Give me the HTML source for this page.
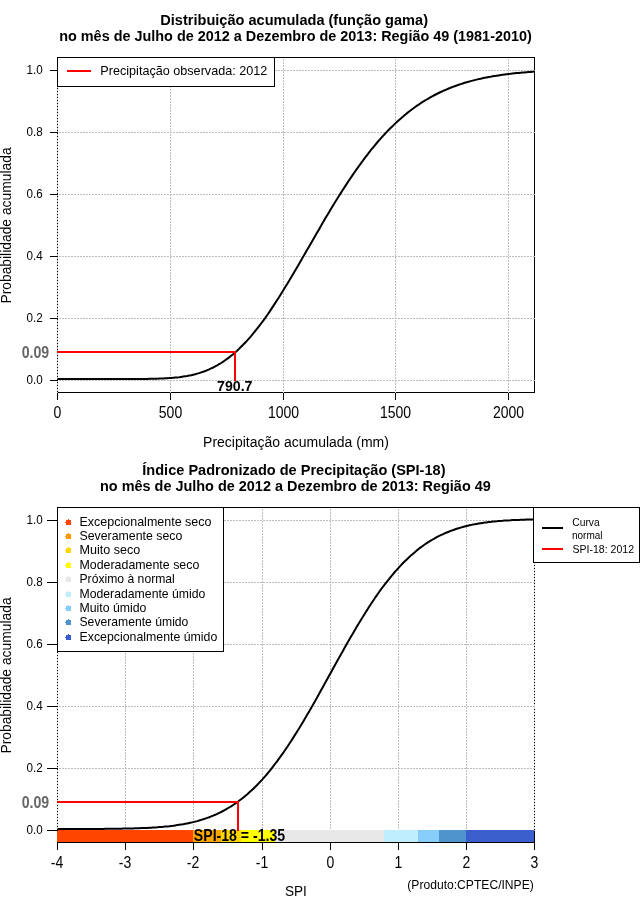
<!DOCTYPE html>
<html><head><meta charset="utf-8"><title>SPI-18</title>
<style>
html,body{margin:0;padding:0;background:#fff;}
body{width:640px;height:900px;overflow:hidden;}
svg{display:block;will-change:transform;font-family:"Liberation Sans",sans-serif;fill:#000;}
.ce{shape-rendering:crispEdges;}
.g{stroke:#bebebe;stroke-width:1;stroke-dasharray:2 1;fill:none;shape-rendering:crispEdges;}
.k{stroke:#000;stroke-width:1;fill:none;shape-rendering:crispEdges;}
.r{stroke:#ff0000;stroke-width:2;fill:none;shape-rendering:crispEdges;}
.c{stroke:#000;stroke-width:2;fill:none;stroke-linejoin:round;}
.b{font-weight:bold;}
</style></head><body>
<svg width="640" height="900" viewBox="0 0 640 900">
<rect x="0" y="0" width="640" height="900" fill="#fff"/>

<g id="p1">
<text transform="translate(160.3,24.6) scale(1,1.1)" font-size="14" class="b" textLength="267.70" lengthAdjust="spacingAndGlyphs">Distribuição acumulada (função gama)</text>
<text transform="translate(59.2,41) scale(1,1.1)" font-size="14" class="b" textLength="472.60" lengthAdjust="spacingAndGlyphs">no mês de Julho de 2012 a Dezembro de 2013: Região 49 (1981-2010)</text>
<path class="k" d="M57.5,57.5 H534.5 V392.5 H57.5 Z"/>
<path class="g" d="M57.5,58.5 V392.5"/>
<path class="g" d="M170.5,58.5 V392.5"/>
<path class="g" d="M283.5,58.5 V392.5"/>
<path class="g" d="M395.5,58.5 V392.5"/>
<path class="g" d="M508.5,58.5 V392.5"/>
<path class="g" d="M58.5,380.5 H534.5"/>
<path class="g" d="M58.5,318.5 H534.5"/>
<path class="g" d="M58.5,256.5 H534.5"/>
<path class="g" d="M58.5,194.5 H534.5"/>
<path class="g" d="M58.5,132.5 H534.5"/>
<path class="g" d="M58.5,70.5 H534.5"/>
<path class="k" d="M50,380.5 H57.5"/>
<text transform="translate(26.5,384.0) scale(1,1.05)" font-size="12" textLength="16.20" lengthAdjust="spacingAndGlyphs">0.0</text>
<path class="k" d="M50,318.5 H57.5"/>
<text transform="translate(26.5,322.0) scale(1,1.05)" font-size="12" textLength="16.20" lengthAdjust="spacingAndGlyphs">0.2</text>
<path class="k" d="M50,256.5 H57.5"/>
<text transform="translate(26.5,260.0) scale(1,1.05)" font-size="12" textLength="16.20" lengthAdjust="spacingAndGlyphs">0.4</text>
<path class="k" d="M50,194.5 H57.5"/>
<text transform="translate(26.5,198.0) scale(1,1.05)" font-size="12" textLength="16.20" lengthAdjust="spacingAndGlyphs">0.6</text>
<path class="k" d="M50,132.5 H57.5"/>
<text transform="translate(26.5,136.0) scale(1,1.05)" font-size="12" textLength="16.20" lengthAdjust="spacingAndGlyphs">0.8</text>
<path class="k" d="M50,70.5 H57.5"/>
<text transform="translate(26.5,74.0) scale(1,1.05)" font-size="12" textLength="16.20" lengthAdjust="spacingAndGlyphs">1.0</text>
<path class="k" d="M57.5,392.5 V400"/>
<text transform="translate(57.5,418) scale(1,1.15)" font-size="14" text-anchor="middle">0</text>
<path class="k" d="M170.5,392.5 V400"/>
<text transform="translate(170.5,418) scale(1,1.15)" font-size="14" text-anchor="middle">500</text>
<path class="k" d="M283.5,392.5 V400"/>
<text transform="translate(283.5,418) scale(1,1.15)" font-size="14" text-anchor="middle">1000</text>
<path class="k" d="M395.5,392.5 V400"/>
<text transform="translate(395.5,418) scale(1,1.15)" font-size="14" text-anchor="middle">1500</text>
<path class="k" d="M508.5,392.5 V400"/>
<text transform="translate(508.5,418) scale(1,1.15)" font-size="14" text-anchor="middle">2000</text>
<path class="c" d="M57.5,379.0 L59.5,379.0 L61.5,379.0 L63.5,379.0 L65.5,379.0 L67.5,379.0 L69.5,379.0 L71.5,379.0 L73.5,379.0 L75.5,379.0 L77.5,379.0 L79.5,379.0 L81.4,379.0 L83.4,379.0 L85.4,379.0 L87.4,379.0 L89.4,379.0 L91.4,379.0 L93.4,379.0 L95.4,379.0 L97.4,379.0 L99.4,379.0 L101.4,379.0 L103.4,379.0 L105.4,379.0 L107.4,379.0 L109.4,379.0 L111.4,379.0 L113.4,379.0 L115.4,379.0 L117.4,379.0 L119.4,379.0 L121.4,379.0 L123.4,379.0 L125.4,379.0 L127.4,379.0 L129.3,379.0 L131.3,379.0 L133.3,379.0 L135.3,379.0 L137.3,379.0 L139.3,379.0 L141.3,378.9 L143.3,378.9 L145.3,378.9 L147.3,378.9 L149.3,378.8 L151.3,378.8 L153.3,378.8 L155.3,378.7 L157.3,378.7 L159.3,378.6 L161.3,378.5 L163.3,378.4 L165.3,378.3 L167.3,378.2 L169.3,378.1 L171.3,378.0 L173.3,377.8 L175.3,377.6 L177.2,377.4 L179.2,377.2 L181.2,376.9 L183.2,376.6 L185.2,376.3 L187.2,376.0 L189.2,375.6 L191.2,375.2 L193.2,374.7 L195.2,374.2 L197.2,373.6 L199.2,373.1 L201.2,372.4 L203.2,371.7 L205.2,371.0 L207.2,370.2 L209.2,369.3 L211.2,368.4 L213.2,367.5 L215.2,366.4 L217.2,365.4 L219.2,364.2 L221.2,363.0 L223.2,361.7 L225.1,360.3 L227.1,358.9 L229.1,357.4 L231.1,355.8 L233.1,354.2 L235.1,352.4 L237.1,350.7 L239.1,348.8 L241.1,346.8 L243.1,344.8 L245.1,342.7 L247.1,340.6 L249.1,338.4 L251.1,336.1 L253.1,333.7 L255.1,331.2 L257.1,328.7 L259.1,326.2 L261.1,323.5 L263.1,320.8 L265.1,318.1 L267.1,315.2 L269.1,312.4 L271.1,309.4 L273.0,306.4 L275.0,303.4 L277.0,300.3 L279.0,297.2 L281.0,294.0 L283.0,290.8 L285.0,287.5 L287.0,284.3 L289.0,280.9 L291.0,277.6 L293.0,274.2 L295.0,270.8 L297.0,267.4 L299.0,264.0 L301.0,260.5 L303.0,257.1 L305.0,253.6 L307.0,250.1 L309.0,246.7 L311.0,243.2 L313.0,239.7 L315.0,236.3 L317.0,232.8 L319.0,229.4 L320.9,225.9 L322.9,222.5 L324.9,219.1 L326.9,215.8 L328.9,212.4 L330.9,209.1 L332.9,205.8 L334.9,202.5 L336.9,199.3 L338.9,196.0 L340.9,192.9 L342.9,189.7 L344.9,186.6 L346.9,183.6 L348.9,180.5 L350.9,177.6 L352.9,174.6 L354.9,171.7 L356.9,168.9 L358.9,166.1 L360.9,163.3 L362.9,160.6 L364.9,157.9 L366.9,155.3 L368.8,152.8 L370.8,150.2 L372.8,147.8 L374.8,145.4 L376.8,143.0 L378.8,140.7 L380.8,138.4 L382.8,136.2 L384.8,134.0 L386.8,131.9 L388.8,129.8 L390.8,127.8 L392.8,125.9 L394.8,123.9 L396.8,122.1 L398.8,120.3 L400.8,118.5 L402.8,116.8 L404.8,115.1 L406.8,113.4 L408.8,111.8 L410.8,110.3 L412.8,108.8 L414.8,107.3 L416.7,105.9 L418.7,104.6 L420.7,103.2 L422.7,101.9 L424.7,100.7 L426.7,99.5 L428.7,98.3 L430.7,97.2 L432.7,96.1 L434.7,95.0 L436.7,94.0 L438.7,93.0 L440.7,92.0 L442.7,91.1 L444.7,90.2 L446.7,89.4 L448.7,88.5 L450.7,87.7 L452.7,86.9 L454.7,86.2 L456.7,85.5 L458.7,84.8 L460.7,84.1 L462.7,83.5 L464.6,82.8 L466.6,82.3 L468.6,81.7 L470.6,81.1 L472.6,80.6 L474.6,80.1 L476.6,79.6 L478.6,79.1 L480.6,78.7 L482.6,78.2 L484.6,77.8 L486.6,77.4 L488.6,77.0 L490.6,76.7 L492.6,76.3 L494.6,76.0 L496.6,75.7 L498.6,75.4 L500.6,75.1 L502.6,74.8 L504.6,74.5 L506.6,74.2 L508.6,74.0 L510.6,73.8 L512.5,73.5 L514.5,73.3 L516.5,73.1 L518.5,72.9 L520.5,72.7 L522.5,72.5 L524.5,72.4 L526.5,72.2 L528.5,72.0 L530.5,71.9 L532.5,71.7 L534.5,71.6"/>
<path class="r" d="M57.0,352 H236 M235,351 V381"/>
<text transform="translate(21.7,358) scale(1,1.2)" font-size="14" class="b" fill="#666" textLength="27.50" lengthAdjust="spacingAndGlyphs">0.09</text>
<text transform="translate(217,391) scale(1,1.1)" font-size="14" class="b" textLength="35.50" lengthAdjust="spacingAndGlyphs">790.7</text>
<rect class="k" x="57.5" y="57.5" width="217" height="29" fill="#fff" style="fill:#fff"/>
<path class="r" d="M67,71 H91"/>
<text transform="translate(100.3,75.4) scale(1,1.05)" font-size="12" textLength="167.00" lengthAdjust="spacingAndGlyphs">Precipitação observada: 2012</text>
<text transform="translate(203.1,446.5) scale(1,1.1)" font-size="14" textLength="185.80" lengthAdjust="spacingAndGlyphs">Precipitação acumulada (mm)</text>
<g transform="translate(10.6,303.6) rotate(-90)">
<text transform="translate(0,0) scale(1,1.1)" font-size="14" textLength="156.20" lengthAdjust="spacingAndGlyphs">Probabilidade acumulada</text>
</g>
</g>
<g id="p2">
<text transform="translate(142.3,474.6) scale(1,1.1)" font-size="14" class="b" textLength="303.20" lengthAdjust="spacingAndGlyphs">Índice Padronizado de Precipitação (SPI-18)</text>
<text transform="translate(100.0,491) scale(1,1.1)" font-size="14" class="b" textLength="390.80" lengthAdjust="spacingAndGlyphs">no mês de Julho de 2012 a Dezembro de 2013: Região 49</text>
<path class="k" d="M57.5,842.5 V507.5 H534.5 V842.5"/>
<path class="g" d="M57.5,508.5 V830.5" style="stroke:#d4d4d4"/>
<path class="g" d="M125.5,508.5 V830.5" style="stroke:#bebebe"/>
<path class="g" d="M193.5,508.5 V830.5" style="stroke:#bebebe"/>
<path class="g" d="M262.5,508.5 V830.5" style="stroke:#bebebe"/>
<path class="g" d="M330.5,508.5 V830.5" style="stroke:#bebebe"/>
<path class="g" d="M398.5,508.5 V830.5" style="stroke:#bebebe"/>
<path class="g" d="M466.5,508.5 V830.5" style="stroke:#bebebe"/>
<path class="g" d="M534.5,508.5 V830.5" style="stroke:#d4d4d4"/>
<path class="g" d="M58.5,830.5 H534.5"/>
<path class="g" d="M58.5,768.5 H534.5"/>
<path class="g" d="M58.5,706.5 H534.5"/>
<path class="g" d="M58.5,644.5 H534.5"/>
<path class="g" d="M58.5,582.5 H534.5"/>
<path class="g" d="M58.5,520.5 H534.5"/>
<rect class="ce" x="57" y="830" width="136" height="12" fill="#ff4500"/>
<rect class="ce" x="193" y="830" width="28" height="12" fill="#ffa500"/>
<rect class="ce" x="221" y="830" width="20" height="12" fill="#ffd700"/>
<rect class="ce" x="241" y="830" width="34" height="12" fill="#ffff00"/>
<rect class="ce" x="275" y="830" width="109" height="12" fill="#e8e8e8"/>
<rect class="ce" x="384" y="830" width="34" height="12" fill="#bfefff"/>
<rect class="ce" x="418" y="830" width="21" height="12" fill="#87cefa"/>
<rect class="ce" x="439" y="830" width="27" height="12" fill="#4f94cd"/>
<rect class="ce" x="466" y="830" width="68" height="12" fill="#3a5fcd"/>
<path class="k" d="M57.0,842.5 H535.0"/>
<path class="k" d="M47,830.5 H57.5"/>
<text transform="translate(26.5,834.0) scale(1,1.05)" font-size="12" textLength="16.20" lengthAdjust="spacingAndGlyphs">0.0</text>
<path class="k" d="M47,768.5 H57.5"/>
<text transform="translate(26.5,772.0) scale(1,1.05)" font-size="12" textLength="16.20" lengthAdjust="spacingAndGlyphs">0.2</text>
<path class="k" d="M47,706.5 H57.5"/>
<text transform="translate(26.5,710.0) scale(1,1.05)" font-size="12" textLength="16.20" lengthAdjust="spacingAndGlyphs">0.4</text>
<path class="k" d="M47,644.5 H57.5"/>
<text transform="translate(26.5,648.0) scale(1,1.05)" font-size="12" textLength="16.20" lengthAdjust="spacingAndGlyphs">0.6</text>
<path class="k" d="M47,582.5 H57.5"/>
<text transform="translate(26.5,586.0) scale(1,1.05)" font-size="12" textLength="16.20" lengthAdjust="spacingAndGlyphs">0.8</text>
<path class="k" d="M47,520.5 H57.5"/>
<text transform="translate(26.5,524.0) scale(1,1.05)" font-size="12" textLength="16.20" lengthAdjust="spacingAndGlyphs">1.0</text>
<path class="k" d="M57.5,842.5 V850"/>
<text transform="translate(57.0,868) scale(1,1.15)" font-size="14" text-anchor="middle">-4</text>
<path class="k" d="M125.5,842.5 V850"/>
<text transform="translate(125.0,868) scale(1,1.15)" font-size="14" text-anchor="middle">-3</text>
<path class="k" d="M193.5,842.5 V850"/>
<text transform="translate(193.0,868) scale(1,1.15)" font-size="14" text-anchor="middle">-2</text>
<path class="k" d="M262.5,842.5 V850"/>
<text transform="translate(262.0,868) scale(1,1.15)" font-size="14" text-anchor="middle">-1</text>
<path class="k" d="M330.5,842.5 V850"/>
<text transform="translate(330.5,868) scale(1,1.15)" font-size="14" text-anchor="middle">0</text>
<path class="k" d="M398.5,842.5 V850"/>
<text transform="translate(398.5,868) scale(1,1.15)" font-size="14" text-anchor="middle">1</text>
<path class="k" d="M466.5,842.5 V850"/>
<text transform="translate(466.5,868) scale(1,1.15)" font-size="14" text-anchor="middle">2</text>
<path class="k" d="M534.5,842.5 V850"/>
<text transform="translate(534.5,868) scale(1,1.15)" font-size="14" text-anchor="middle">3</text>
<path class="c" d="M57.5,829.0 L59.5,829.0 L61.5,829.0 L63.5,829.0 L65.5,829.0 L67.5,829.0 L69.5,829.0 L71.5,829.0 L73.5,829.0 L75.5,829.0 L77.5,829.0 L79.5,829.0 L81.4,829.0 L83.4,829.0 L85.4,828.9 L87.4,828.9 L89.4,828.9 L91.4,828.9 L93.4,828.9 L95.4,828.9 L97.4,828.9 L99.4,828.9 L101.4,828.9 L103.4,828.9 L105.4,828.8 L107.4,828.8 L109.4,828.8 L111.4,828.8 L113.4,828.8 L115.4,828.7 L117.4,828.7 L119.4,828.7 L121.4,828.7 L123.4,828.6 L125.4,828.6 L127.4,828.5 L129.3,828.5 L131.3,828.5 L133.3,828.4 L135.3,828.3 L137.3,828.3 L139.3,828.2 L141.3,828.1 L143.3,828.0 L145.3,828.0 L147.3,827.9 L149.3,827.8 L151.3,827.7 L153.3,827.5 L155.3,827.4 L157.3,827.3 L159.3,827.1 L161.3,826.9 L163.3,826.8 L165.3,826.6 L167.3,826.4 L169.3,826.2 L171.3,825.9 L173.3,825.7 L175.3,825.4 L177.2,825.1 L179.2,824.8 L181.2,824.5 L183.2,824.2 L185.2,823.8 L187.2,823.4 L189.2,823.0 L191.2,822.6 L193.2,822.1 L195.2,821.6 L197.2,821.1 L199.2,820.5 L201.2,819.9 L203.2,819.3 L205.2,818.6 L207.2,817.9 L209.2,817.2 L211.2,816.4 L213.2,815.6 L215.2,814.8 L217.2,813.9 L219.2,812.9 L221.2,812.0 L223.2,810.9 L225.1,809.8 L227.1,808.7 L229.1,807.5 L231.1,806.3 L233.1,805.0 L235.1,803.7 L237.1,802.3 L239.1,800.8 L241.1,799.3 L243.1,797.7 L245.1,796.1 L247.1,794.4 L249.1,792.6 L251.1,790.8 L253.1,788.9 L255.1,787.0 L257.1,785.0 L259.1,782.9 L261.1,780.8 L263.1,778.6 L265.1,776.3 L267.1,774.0 L269.1,771.6 L271.1,769.1 L273.0,766.6 L275.0,764.0 L277.0,761.4 L279.0,758.6 L281.0,755.9 L283.0,753.1 L285.0,750.2 L287.0,747.2 L289.0,744.2 L291.0,741.2 L293.0,738.1 L295.0,734.9 L297.0,731.7 L299.0,728.5 L301.0,725.2 L303.0,721.9 L305.0,718.5 L307.0,715.1 L309.0,711.7 L311.0,708.2 L313.0,704.7 L315.0,701.2 L317.0,697.7 L319.0,694.1 L320.9,690.5 L322.9,686.9 L324.9,683.3 L326.9,679.7 L328.9,676.1 L330.9,672.4 L332.9,668.8 L334.9,665.2 L336.9,661.6 L338.9,658.0 L340.9,654.4 L342.9,650.9 L344.9,647.3 L346.9,643.8 L348.9,640.3 L350.9,636.8 L352.9,633.4 L354.9,630.0 L356.9,626.6 L358.9,623.3 L360.9,620.0 L362.9,616.7 L364.9,613.5 L366.9,610.4 L368.8,607.2 L370.8,604.2 L372.8,601.2 L374.8,598.2 L376.8,595.4 L378.8,592.5 L380.8,589.7 L382.8,587.0 L384.8,584.4 L386.8,581.8 L388.8,579.3 L390.8,576.8 L392.8,574.4 L394.8,572.0 L396.8,569.8 L398.8,567.6 L400.8,565.4 L402.8,563.3 L404.8,561.3 L406.8,559.4 L408.8,557.5 L410.8,555.6 L412.8,553.9 L414.8,552.2 L416.7,550.5 L418.7,548.9 L420.7,547.4 L422.7,546.0 L424.7,544.5 L426.7,543.2 L428.7,541.9 L430.7,540.7 L432.7,539.5 L434.7,538.3 L436.7,537.2 L438.7,536.2 L440.7,535.2 L442.7,534.3 L444.7,533.3 L446.7,532.5 L448.7,531.7 L450.7,530.9 L452.7,530.2 L454.7,529.5 L456.7,528.8 L458.7,528.2 L460.7,527.6 L462.7,527.0 L464.6,526.5 L466.6,526.0 L468.6,525.5 L470.6,525.1 L472.6,524.6 L474.6,524.3 L476.6,523.9 L478.6,523.5 L480.6,523.2 L482.6,522.9 L484.6,522.6 L486.6,522.4 L488.6,522.1 L490.6,521.9 L492.6,521.6 L494.6,521.4 L496.6,521.3 L498.6,521.1 L500.6,520.9 L502.6,520.8 L504.6,520.6 L506.6,520.5 L508.6,520.4 L510.6,520.3 L512.5,520.1 L514.5,520.1 L516.5,520.0 L518.5,519.9 L520.5,519.8 L522.5,519.7 L524.5,519.7 L526.5,519.6 L528.5,519.6 L530.5,519.5 L532.5,519.5 L534.5,519.4"/>
<path class="r" d="M57.0,802 H239 M238,801 V831"/>
<text transform="translate(21.7,808) scale(1,1.2)" font-size="14" class="b" fill="#666" textLength="27.50" lengthAdjust="spacingAndGlyphs">0.09</text>
<text transform="translate(193.8,841) scale(1,1.15)" font-size="14" class="b" textLength="91.40" lengthAdjust="spacingAndGlyphs">SPI-18 = -1.35</text>
<rect class="k" x="57.5" y="507.5" width="166" height="144" style="fill:#fff"/>
<path class="ce" fill="#ff4500" d="M66,520h2v-1h1v1h2v5h-5v-2h-1v-1h1z"/>
<text transform="translate(79.5,526) scale(1,1.05)" font-size="12" textLength="132.00" lengthAdjust="spacingAndGlyphs">Excepcionalmente seco</text>
<path class="ce" fill="#ff9900" d="M66,534h2v-1h1v1h2v5h-5v-2h-1v-1h1z"/>
<text transform="translate(79.5,540) scale(1,1.05)" font-size="12" textLength="102.80" lengthAdjust="spacingAndGlyphs">Severamente seco</text>
<path class="ce" fill="#ffd700" d="M66,548h2v-1h1v1h2v5h-5v-2h-1v-1h1z"/>
<text transform="translate(79.5,554) scale(1,1.05)" font-size="12" textLength="60.80" lengthAdjust="spacingAndGlyphs">Muito seco</text>
<path class="ce" fill="#ffff00" d="M66,563h2v-1h1v1h2v5h-5v-2h-1v-1h1z"/>
<text transform="translate(79.5,569) scale(1,1.05)" font-size="12" textLength="119.80" lengthAdjust="spacingAndGlyphs">Moderadamente seco</text>
<path class="ce" fill="#e8e8e8" d="M66,577h2v-1h1v1h2v5h-5v-2h-1v-1h1z"/>
<text transform="translate(79.5,583) scale(1,1.05)" font-size="12" textLength="95.30" lengthAdjust="spacingAndGlyphs">Próximo à normal</text>
<path class="ce" fill="#bfefff" d="M66,592h2v-1h1v1h2v5h-5v-2h-1v-1h1z"/>
<text transform="translate(79.5,598) scale(1,1.05)" font-size="12" textLength="125.90" lengthAdjust="spacingAndGlyphs">Moderadamente úmido</text>
<path class="ce" fill="#87cefa" d="M66,606h2v-1h1v1h2v5h-5v-2h-1v-1h1z"/>
<text transform="translate(79.5,612) scale(1,1.05)" font-size="12" textLength="66.90" lengthAdjust="spacingAndGlyphs">Muito úmido</text>
<path class="ce" fill="#4f94cd" d="M66,620h2v-1h1v1h2v5h-5v-2h-1v-1h1z"/>
<text transform="translate(79.5,626) scale(1,1.05)" font-size="12" textLength="108.90" lengthAdjust="spacingAndGlyphs">Severamente úmido</text>
<path class="ce" fill="#3a5fcd" d="M66,635h2v-1h1v1h2v5h-5v-2h-1v-1h1z"/>
<text transform="translate(79.5,641) scale(1,1.05)" font-size="12" textLength="137.80" lengthAdjust="spacingAndGlyphs">Excepcionalmente úmido</text>
<rect class="k" x="533.5" y="507.5" width="106" height="55" style="fill:#fff"/>
<path class="c ce" d="M541.5,528 H563"/>
<path class="r" d="M541.5,549 H563"/>
<text transform="translate(572.3,526) scale(1,1.03)" font-size="10.5" textLength="27.40" lengthAdjust="spacingAndGlyphs">Curva</text>
<text transform="translate(572.0,539) scale(1,1.03)" font-size="10.5" textLength="30.50" lengthAdjust="spacingAndGlyphs">normal</text>
<text transform="translate(572.5,552.5) scale(1,1.03)" font-size="10.5" textLength="61.50" lengthAdjust="spacingAndGlyphs">SPI-18: 2012</text>
<text transform="translate(284.9,896.4) scale(1,1.1)" font-size="14" textLength="21.90" lengthAdjust="spacingAndGlyphs">SPI</text>
<text transform="translate(407.3,888.8) scale(1,1.05)" font-size="12" textLength="126.50" lengthAdjust="spacingAndGlyphs">(Produto:CPTEC/INPE)</text>
<g transform="translate(10.6,753.6) rotate(-90)">
<text transform="translate(0,0) scale(1,1.1)" font-size="14" textLength="156.20" lengthAdjust="spacingAndGlyphs">Probabilidade acumulada</text>
</g>
</g>
</svg></body></html>
